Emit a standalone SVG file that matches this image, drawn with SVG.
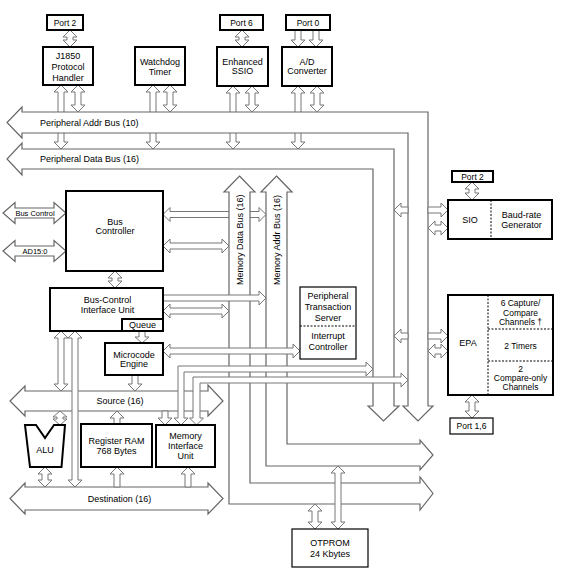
<svg xmlns="http://www.w3.org/2000/svg" width="561" height="578" viewBox="0 0 561 578">
<style>
text{font-family:"Liberation Sans",Arial,sans-serif;font-size:9px;fill:#000;text-anchor:middle}
.s{text-anchor:start}
.sm{font-size:7.5px}
.e{font-size:8.5px}
.bx{fill:#fff;stroke:#000;stroke-width:2}
.tb{fill:#fff;stroke:#000;stroke-width:1.2}
.bus{fill:#fff;stroke:#666;stroke-width:1.2}
.a{fill:#fff;stroke:#777;stroke-width:1}
.d{stroke:#000;stroke-width:1;stroke-dasharray:2 1.5;fill:none}
</style>
<rect width="561" height="578" fill="#fff"/>

<g id="connectors-under">
<path class="a" d="M61,85 L68,92 L64,92 L64,142 L68,142 L61,149 L54,142 L58,142 L58,92 L54,92 Z"/>
<path class="a" d="M153,85 L160,92 L156,92 L156,142 L160,142 L153,149 L146,142 L150,142 L150,92 L146,92 Z"/>
<path class="a" d="M233,86 L240,93 L236,93 L236,142 L240,142 L233,149 L226,142 L230,142 L230,93 L226,93 Z"/>
<path class="a" d="M298,86 L305,93 L301,93 L301,142 L305,142 L298,149 L291,142 L295,142 L295,93 L291,93 Z"/>
<path class="a" d="M163,214.5 L170,207.5 L170,211.5 L259,211.5 L259,207.5 L266,214.5 L259,221.5 L259,217.5 L170,217.5 L170,221.5 Z"/>
</g>

<g id="buses">
<path class="bus" d="M22,112 L428,112 L428,406 L433,406 L418,421 L403,406 L408,406 L408,133 L22,133 L22,138 L7,122.5 L22,107 Z"/>
<path class="bus" d="M22,149 L394,149 L394,406 L399,406 L383.5,421 L368,406 L373,406 L373,169 L22,169 L22,175 L7,159 L22,143 Z"/>
<path class="bus" d="M239.5,176 L255,192 L250,192 L250,483 L420,483 L420,477 L433,493.5 L420,510 L420,504 L229,504 L229,192 L224,192 Z"/>
<path class="bus" d="M276.5,176 L292,192 L287,192 L287,444 L420,444 L420,440 L433,455 L420,470 L420,466 L266,466 L266,192 L261,192 Z"/>
<path class="bus" d="M25,391 L208,391 L208,385 L223,401 L208,416 L208,411 L25,411 L25,416 L10,401 L25,386 Z"/>
<path class="bus" d="M25,487 L208,487 L208,483 L223,498.5 L208,514 L208,510 L25,510 L25,514 L10,498.5 L25,483 Z"/>
<path class="bus" d="M3,213 L15,202.5 L15,208 L54,208 L54,202.5 L66,213 L54,223.5 L54,218 L15,218 L15,223.5 Z"/>
<path class="bus" d="M3,251 L15,240.5 L15,246 L54,246 L54,240.5 L66,251 L54,261.5 L54,256 L15,256 L15,261.5 Z"/>
<text class="s" x="40" y="126">Peripheral Addr Bus (10)</text>
<text class="s" x="40" y="162">Peripheral Data Bus (16)</text>
<text x="120" y="404">Source (16)</text>
<text x="119.5" y="501.5">Destination (16)</text>
<text class="s" transform="translate(243,285) rotate(-90)">Memory Data Bus (16)</text>
<text class="s" transform="translate(280,285) rotate(-90)">Memory Addr Bus (16)</text>
<text class="sm" x="35" y="216">Bus Control</text>
<text class="sm" x="35" y="254">AD15:0</text>
</g>

<g id="connectors">
<path class="a" d="M70,30 L77,37 L73,37 L73,40 L77,40 L70,47 L63,40 L67,40 L67,37 L63,37 Z"/>
<path class="a" d="M78,85 L85,92 L81,92 L81,105 L85,105 L78,112 L71,105 L75,105 L75,92 L71,92 Z"/>
<path class="a" d="M170,85 L177,92 L173,92 L173,105 L177,105 L170,112 L163,105 L167,105 L167,92 L163,92 Z"/>
<path class="a" d="M242,30 L249,37 L245,37 L245,40 L249,40 L242,47 L235,40 L239,40 L239,37 L235,37 Z"/>
<path class="a" d="M252,86 L259,93 L255,93 L255,105 L259,105 L252,112 L245,105 L249,105 L249,93 L245,93 Z"/>
<path class="a" d="M317,86 L324,93 L320,93 L320,105 L324,105 L317,112 L310,105 L314,105 L314,93 L310,93 Z"/>
<path class="a" d="M295,30 L301,30 L301,40 L305,40 L298,47 L291,40 L295,40 Z"/>
<path class="a" d="M313,30 L319,30 L319,40 L323,40 L316,47 L309,40 L313,40 Z"/>
<path class="a" d="M115,271 L122,278 L118,278 L118,281 L122,281 L115,288 L108,281 L112,281 L112,278 L108,278 Z"/>
<path class="a" d="M61,331 L68,338 L64,338 L64,384 L68,384 L61,391 L54,384 L58,384 L58,338 L54,338 Z"/>
<path class="a" d="M75,331 L82,338 L78,338 L78,480 L82,480 L75,487 L68,480 L72,480 L72,338 L68,338 Z"/>
<path class="a" d="M60,411 L67,417 L63,417 L63,419 L67,419 L60,425 L53,419 L57,419 L57,417 L53,417 Z"/>
<path class="a" d="M45,467 L52,474 L48,474 L48,480 L52,480 L45,487 L38,480 L42,480 L42,474 L38,474 Z"/>
<path class="a" d="M472,182 L479,189 L475,189 L475,193 L479,193 L472,200 L465,193 L469,193 L469,189 L465,189 Z"/>
<path class="a" d="M472,395 L479,402 L475,402 L475,411 L479,411 L472,418 L465,411 L469,411 L469,402 L465,402 Z"/>
<path class="a" d="M315,504 L322,511 L318,511 L318,522 L322,522 L315,529 L308,522 L312,522 L312,511 L308,511 Z"/>
<path class="a" d="M338,466 L345,473 L341,473 L341,522 L345,522 L338,529 L331,522 L335,522 L335,473 L331,473 Z"/>
<path class="a" d="M139,331 L145,331 L145,337 L149,337 L142,343 L135,337 L139,337 Z"/>
<path class="a" d="M132,375 L138,375 L138,384 L142,384 L135,391 L128,384 L132,384 Z"/>
<path class="a" d="M162,411 L168,411 L168,418 L172,418 L165,425 L158,418 L162,418 Z"/>
<path class="a" d="M117,411 L124,418 L120,418 L120,424 L114,424 L114,418 L110,418 Z"/>
<path class="a" d="M117,467 L124,474 L120,474 L120,487 L114,487 L114,474 L110,474 Z"/>
<path class="a" d="M188,467 L195,474 L191,474 L191,487 L185,487 L185,474 L181,474 Z"/>
<path class="a" d="M163,246 L170,239 L170,243 L222,243 L222,239 L229,246 L222,253 L222,249 L170,249 L170,253 Z"/>
<path class="a" d="M163,311 L170,304 L170,308 L222,308 L222,304 L229,311 L222,318 L222,314 L170,314 L170,318 Z"/>
<path class="a" d="M163,351 L170,344 L170,348 L293,348 L293,344 L300,351 L293,358 L293,354 L170,354 L170,358 Z"/>
<path class="a" d="M428,228 L435,221 L435,225 L441,225 L441,221 L448,228 L441,235 L441,231 L435,231 L435,235 Z"/>
<path class="a" d="M428,351 L435,344 L435,348 L441,348 L441,344 L448,351 L441,358 L441,354 L435,354 L435,358 Z"/>
<path class="a" d="M163,295 L259,295 L259,291 L266,298 L259,305 L259,301 L163,301 Z"/>
<path class="a" d="M428,207 L441,207 L441,203 L448,210 L441,217 L441,213 L428,213 Z"/>
<path class="a" d="M428,333 L441,333 L441,329 L448,336 L441,343 L441,339 L428,339 Z"/>
<path class="a" d="M408,207 L401,207 L401,203 L394,210 L401,217 L401,213 L408,213 Z"/>
<path class="a" d="M408,333 L401,333 L401,329 L394,336 L401,343 L401,339 L408,339 Z"/>
<path class="a" d="M181,425 L174,418 L178,418 L178,366 L366,366 L366,362 L373,369 L366,376 L366,372 L184,372 L184,418 L188,418 Z"/>
<path class="a" d="M196.5,425 L189.5,418 L193,418 L193,377 L401,377 L401,373 L408,380 L401,387 L401,383 L200,383 L200,418 L203.5,418 Z"/>
</g>

<g id="port2-top"><rect class="bx" x="47" y="15" width="36" height="15"/><text class="e" x="65" y="25.5">Port 2</text></g>
<g id="j1850"><rect class="bx" x="43" y="47" width="50" height="38"/><text x="68" y="58.5">J1850</text><text x="68" y="69.5">Protocol</text><text x="68" y="80.5">Handler</text></g>
<g id="watchdog"><rect class="bx" x="135" y="47" width="50" height="38"/><text x="160" y="65">Watchdog</text><text x="160" y="74.5">Timer</text></g>
<g id="port6"><rect class="bx" x="220" y="15" width="43" height="15"/><text class="e" x="241.5" y="25.5">Port 6</text></g>
<g id="ssio"><rect class="bx" x="217" y="47" width="51" height="39"/><text x="242.5" y="64.5">Enhanced</text><text x="242.5" y="73.5">SSIO</text></g>
<g id="port0"><rect class="bx" x="286" y="15" width="44" height="15"/><text class="e" x="308" y="25.5">Port 0</text></g>
<g id="adc"><rect class="bx" x="282" y="47" width="50" height="39"/><text x="307" y="64.5">A/D</text><text x="307" y="73.5">Converter</text></g>
<g id="bus-controller"><rect class="bx" x="66" y="191" width="97" height="80"/><text x="115" y="224.5">Bus</text><text x="115" y="233.5">Controller</text></g>
<g id="bciu"><rect class="bx" x="50" y="288" width="113" height="43"/><text x="107.5" y="302.5">Bus-Control</text><text x="107.5" y="312.5">Interface Unit</text>
<rect class="bx" x="122" y="319" width="41" height="12"/><text x="142.5" y="328">Queue</text></g>
<g id="microcode"><rect class="bx" x="105" y="343" width="58" height="32"/><text x="134" y="358">Microcode</text><text x="134" y="367">Engine</text></g>
<g id="alu"><path class="bx" d="M25,425 L36,425 L45,438 L54,425 L65,425 L61.5,467 L30,467 Z"/><text x="45" y="452.5">ALU</text></g>
<g id="register-ram"><rect class="bx" x="81" y="424" width="71" height="43"/><text x="116.5" y="444">Register RAM</text><text x="116.5" y="454">768 Bytes</text></g>
<g id="miu"><rect class="bx" x="156" y="425" width="59" height="42"/><text x="185.5" y="439">Memory</text><text x="185.5" y="449">Interface</text><text x="185.5" y="458.5">Unit</text></g>
<g id="pts"><rect class="tb" x="300" y="287" width="56" height="72"/><line class="d" x1="300" y1="326" x2="356" y2="326"/>
<text x="328" y="299">Peripheral</text><text x="328" y="310">Transaction</text><text x="328" y="320.5">Server</text><text x="328" y="339">Interrupt</text><text x="328" y="350">Controller</text></g>
<g id="otprom"><rect class="tb" x="292" y="529" width="76" height="38"/><text x="330" y="546">OTPROM</text><text x="330" y="557">24 Kbytes</text></g>
<g id="port2-sio"><rect class="bx" x="452" y="171" width="41" height="11"/><text class="e" x="472.5" y="179.5">Port 2</text></g>
<g id="sio"><rect class="bx" x="448" y="200" width="104" height="39"/><line class="d" x1="491" y1="200" x2="491" y2="239"/><text x="470" y="223">SIO</text><text x="521.5" y="218">Baud-rate</text><text x="521.5" y="228">Generator</text></g>
<g id="epa"><rect class="bx" x="448" y="295" width="105" height="100"/><line class="d" x1="488" y1="295" x2="488" y2="395"/><line class="d" x1="488" y1="329" x2="553" y2="329"/><line class="d" x1="488" y1="361" x2="553" y2="361"/>
<text x="468" y="346">EPA</text><text class="e" x="520.5" y="306">6 Capture/</text><text class="e" x="520.5" y="315.5">Compare</text><text class="e" x="520.5" y="324.5">Channels †</text><text class="e" x="520.5" y="349">2 Timers</text><text class="e" x="520.5" y="372">2</text><text class="e" x="520.5" y="381">Compare-only</text><text class="e" x="520.5" y="390">Channels</text></g>
<g id="port16"><rect class="tb" x="450" y="418" width="43" height="16"/><text class="e" x="471.5" y="429">Port 1,6</text></g>
</svg>
